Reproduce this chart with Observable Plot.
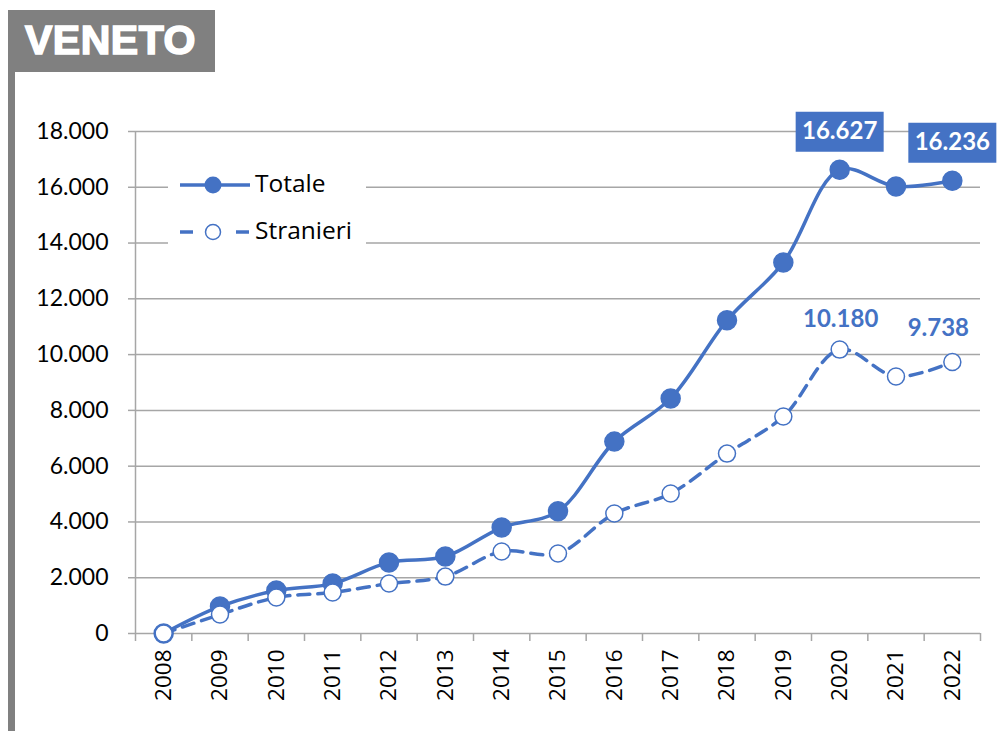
<!DOCTYPE html>
<html>
<head>
<meta charset="utf-8">
<script src="https://cdn.jsdelivr.net/npm/d3@7"></script>
<script src="https://cdn.jsdelivr.net/npm/@observablehq/plot@0.6"></script>
<style>
  html, body { margin: 0; padding: 0; background: #fff; }
  #wrap { position: relative; width: 1004px; height: 731px; overflow: hidden; }
  #chart { position: absolute; left: 0; top: 0; }
  #hdr { position: absolute; left: 8px; top: 10px; width: 207px; height: 62px; background: #808080; }
  #hdr span { position: absolute; left: 17px; top: 7px; color: #fff; font: bold 41px "Liberation Sans", Arial, sans-serif; letter-spacing: 0.5px; -webkit-text-stroke: 1.6px #fff; }
  #bar { position: absolute; left: 8px; top: 72px; width: 7px; height: 659px; background: #808080; }
  #legend { position: absolute; left: 168px; top: 163px; width: 198px; height: 92px; background: #fff; }
  #legend svg { position: absolute; left: 0; top: 0; }
  .lg { position: absolute; left: 87px; font: 24.5px "Open Sans", sans-serif; color: #000; }
</style>
</head>
<body>
<div id="wrap">
  <div id="chart"></div>
  <div id="hdr"><span>VENETO</span></div>
  <div id="bar"></div>
  <div id="legend">
    <svg width="198" height="92">
      <line x1="12" x2="82" y1="22" y2="22" stroke="#4472C4" stroke-width="3.5"/>
      <circle cx="45" cy="22" r="8.5" fill="#4472C4"/>
      <line x1="12" x2="25" y1="69" y2="69" stroke="#4472C4" stroke-width="3.5"/>
      <line x1="68" x2="81" y1="69" y2="69" stroke="#4472C4" stroke-width="3.5"/>
      <circle cx="45" cy="69" r="7.5" fill="#fff" stroke="#4472C4" stroke-width="1.5"/>
    </svg>
    <div class="lg" style="top:3px">Totale</div>
    <div class="lg" style="top:50px">Stranieri</div>
  </div>
</div>
<script>
const years = [2008,2009,2010,2011,2012,2013,2014,2015,2016,2017,2018,2019,2020,2021,2022];
const totale = [0,970,1540,1790,2550,2760,3800,4380,6880,8430,11230,13300,16627,16030,16236];
const stranieri = [0,680,1290,1470,1790,2040,2940,2870,4300,5020,6450,7780,10180,9215,9738];
const yTicks = [0,2000,4000,6000,8000,10000,12000,14000,16000,18000];
const boxedLabels = [{year: 2020, value: 16627}, {year: 2022, value: 16236}];
const openLabel2020 = [{year: 2020, value: 10180}];
const openLabel2022 = [{year: 2022, value: 9738}];

const blue = "#4472C4";
const grid = "#a6a6a6";
const it = d3.formatLocale({decimal: ",", thousands: ".", grouping: [3], currency: ["", "€"]});
const fmt = it.format(",d");

const tot = years.map((y, i) => ({year: y, value: totale[i]}));
const str = years.map((y, i) => ({year: y, value: stranieri[i]}));
const bounds = years.map(y => y - 0.5).concat([years[years.length - 1] + 0.5]);

const rectSymbol = {
  draw(context) { context.rect(-44, -20, 88, 40); }
};
const labelFont = {fontSize: 24, fontWeight: "bold", fontFamily: "Lato, sans-serif"};

const chart = Plot.plot({
  width: 1004,
  height: 731,
  marginLeft: 135,
  marginRight: 24,
  marginTop: 131,
  marginBottom: 98,
  style: {background: "transparent", fontFamily: "Lato, sans-serif"},
  x: {type: "linear", domain: [bounds[0], bounds[bounds.length - 1]]},
  y: {type: "linear", domain: [0, 18000]},
  marks: [
    Plot.ruleY(yTicks, {stroke: grid, strokeWidth: 1.5}),
    Plot.ruleX([bounds[0]], {y1: 0, y2: 18000, stroke: grid, strokeWidth: 1.5}),
    Plot.axisX({ticks: bounds, tickFormat: () => "", tickSize: 8, stroke: grid, strokeWidth: 1.5, label: null}),
    Plot.axisY({ticks: yTicks, tickFormat: fmt, tickSize: 7, tickPadding: 20, stroke: grid, strokeWidth: 1.5, fontSize: 23, fill: "#000", label: null}),
    Plot.axisX({ticks: years, tickFormat: d => String(d), tickSize: 0, tickPadding: 16, tickRotate: -90, fontSize: 22.5, fill: "#000", fontFamily: "Open Sans, sans-serif", label: null}),
    Plot.line(str, {x: "year", y: "value", stroke: blue, strokeWidth: 3.5, strokeDasharray: "12,8", curve: "catmull-rom"}),
    Plot.line(tot, {x: "year", y: "value", stroke: blue, strokeWidth: 3.5, curve: "catmull-rom"}),
    Plot.dot(tot, {x: "year", y: "value", r: 9.5, fill: blue, stroke: blue}),
    Plot.dot(str, {x: "year", y: "value", r: 8.5, fill: "#fff", stroke: blue, strokeWidth: 1.5}),
    Plot.dot(boxedLabels, {x: "year", y: "value", dy: -38, symbol: rectSymbol, r: 10, fill: blue, stroke: "none"}),
    Plot.text(boxedLabels, {x: "year", y: "value", dy: -38, text: d => fmt(d.value), fill: "#fff", ...labelFont}),
    Plot.text(openLabel2020, {x: "year", y: "value", dx: 1, dy: -30, text: d => fmt(d.value), fill: blue, ...labelFont}),
    Plot.text(openLabel2022, {x: "year", y: "value", dx: -14, dy: -34, text: d => fmt(d.value), fill: blue, ...labelFont})
  ]
});
document.getElementById("chart").appendChild(chart);
</script>
</body>
</html>
